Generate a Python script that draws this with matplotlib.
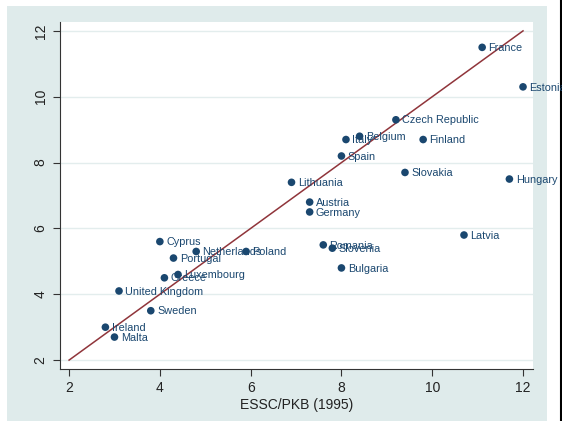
import matplotlib.pyplot as plt
from matplotlib.patches import Rectangle
from matplotlib.lines import Line2D

kraje = ["France", "Estonia", "Czech Republic", "Belgium", "Italy", "Finland",
         "Spain", "Slovakia", "Hungary", "Lithuania", "Austria", "Germany",
         "Latvia", "Romania", "Slovenia", "Bulgaria", "Cyprus", "Netherlands",
         "Poland", "Portugal", "Luxembourg", "Greece", "United Kingdom",
         "Sweden", "Ireland", "Malta"]
essc_1995 = [11.1, 12.0, 9.2, 8.4, 8.1, 9.8, 8.0, 9.4, 11.7, 6.9, 7.3, 7.3,
             10.7, 7.6, 7.8, 8.0, 4.0, 4.8, 5.9, 4.3, 4.4, 4.1, 3.1, 3.8, 2.8, 3.0]
essc_2007 = [11.5, 10.3, 9.3, 8.8, 8.7, 8.7, 8.2, 7.7, 7.5, 7.4, 6.8, 6.5,
             5.8, 5.5, 5.4, 4.8, 5.6, 5.3, 5.3, 5.1, 4.6, 4.5, 4.1, 3.5, 3.0, 2.7]
linia = [2, 12]

granat = "#1a476f"
bordo = "#90353b"
tlo = "#dfebeb"

plt.rcParams['font.family'] = ['Liberation Sans', 'DejaVu Sans']

fig = plt.figure(figsize=(5.62, 4.21), dpi=100)
fig.patch.set_facecolor("white")
W, H = 562, 421
fig.patches.append(Rectangle((7 / W, 0), 540 / W, 415 / H, transform=fig.transFigure,
                             facecolor=tlo, edgecolor="none", zorder=-10))
fig.lines.append(Line2D([561 / W, 561 / W], [0, 1], transform=fig.transFigure,
                        color="black", lw=1.5, zorder=-10))

ax = fig.add_axes([60 / W, (H - 369) / H, 473 / W, 347 / H])
ax.set_facecolor("white")

for y in range(2, 13, 2):
    ax.axhline(y, color="#e3eded", lw=1.0, zorder=0)

ax.plot(linia, linia, color=bordo, lw=1.1, zorder=2)
ax.scatter(essc_1995, essc_2007, s=30, color=granat, edgecolors="none", zorder=3)
for k, x, y in zip(kraje, essc_1995, essc_2007):
    ax.annotate(k, (x, y), xytext=(4.5, -0.5), textcoords="offset points",
                va="center", ha="left", fontsize=7.8, color=granat, zorder=4,
                annotation_clip=False)

ax.set_xlim(1.80, 12.22)
ax.set_ylim(1.73, 12.27)
ax.set_xticks(range(2, 13, 2))
ax.set_yticks(range(2, 13, 2))
ax.tick_params(axis="both", direction="out", length=5, width=0.8, color="#333333",
               labelsize=10, labelcolor="#222222", pad=4)
ax.tick_params(axis="y", labelrotation=90)
for lbl in ax.get_yticklabels():
    lbl.set_va("center")
for side in ("top", "right"):
    ax.spines[side].set_visible(False)
for side in ("left", "bottom"):
    ax.spines[side].set_color("#333333")
    ax.spines[side].set_linewidth(0.8)

ax.set_xlabel("ESSC/PKB (1995)", fontsize=10, color="#222222", labelpad=2)

fig.savefig("out.png", dpi=100)
